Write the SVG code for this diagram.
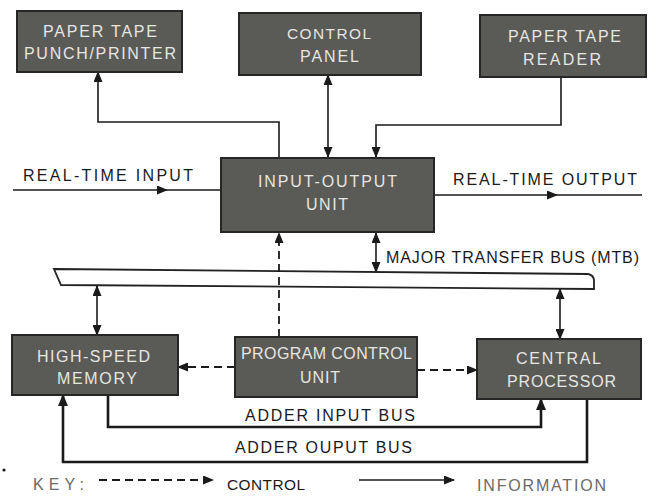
<svg xmlns="http://www.w3.org/2000/svg" width="654" height="499" viewBox="0 0 654 499">
<style>
.box{fill:#5a5a57;stroke:#262626;stroke-width:2}
.bt{font-family:"Liberation Sans",Arial,sans-serif;font-size:16px;fill:#e6e6e2}
.lt{font-family:"Liberation Sans",Arial,sans-serif;font-size:16px;fill:#1a1a1a}
.kt{font-family:"Liberation Sans",Arial,sans-serif;font-size:16px;fill:#6a6a6a}
.sm{font-size:15.4px}
.ln{fill:none;stroke:#1a1a1a;stroke-width:1.6}
.dl{fill:none;stroke:#1a1a1a;stroke-width:1.8;stroke-dasharray:8 5}
.th{fill:none;stroke:#1a1a1a;stroke-width:2.6}
</style>
<defs>
<marker id="ah" markerUnits="userSpaceOnUse" markerWidth="11" markerHeight="9" refX="10" refY="4.5" orient="auto-start-reverse">
<path d="M0,0 L11,4.5 L0,9 Z" fill="#1a1a1a"/>
</marker>
<marker id="ahb" markerUnits="userSpaceOnUse" markerWidth="12" markerHeight="10" refX="11" refY="5" orient="auto">
<path d="M0,0 L12,5 L0,10 Z" fill="#1a1a1a"/>
</marker>
</defs>
<rect width="654" height="499" fill="#ffffff"/>

<g id="bus">
<path d="M54,269 L588,274 Q594,275 594,281 L594,289 L61,285 Z" fill="#ffffff" stroke="#222" stroke-width="1.8"/>
</g>

<g id="connectors">
<path class="ln" d="M279,157 V122 H98 V72" marker-end="url(#ah)"/>
<path class="ln" d="M328,75 V157" marker-start="url(#ah)" marker-end="url(#ah)"/>
<path class="ln" d="M561,77 V125 H376 V157" marker-end="url(#ah)"/>
<path class="ln" d="M13,190 L167,190 L221,190" marker-mid="url(#ah)"/>
<path class="ln" d="M434,195 L557,195 L642,195" marker-mid="url(#ah)"/>
<path class="ln" d="M376,233 V272" marker-start="url(#ah)" marker-end="url(#ah)"/>
<path class="dl" d="M279,337 V233" marker-end="url(#ah)"/>
<path class="ln" d="M97,286 V335" marker-start="url(#ah)" marker-end="url(#ah)"/>
<path class="ln" d="M560,289 V339" marker-start="url(#ah)" marker-end="url(#ah)"/>
<path class="dl" d="M235,367 H178" marker-end="url(#ah)"/>
<path class="dl" d="M417,370 H477" marker-end="url(#ah)"/>
<path class="th" d="M108,395 V427 H541 V399" marker-end="url(#ahb)"/>
<path class="th" d="M587,399 V462 H63 V395" marker-end="url(#ahb)"/>
</g>

<g id="punch">
<rect class="box" x="17" y="11" width="165" height="61"/>
<text class="bt" x="43" y="37" textLength="114" lengthAdjust="spacing">PAPER TAPE</text>
<text class="bt" x="24" y="59" textLength="152" lengthAdjust="spacing">PUNCH/PRINTER</text>
</g>
<g id="control-panel">
<rect class="box" x="239" y="13" width="182" height="62"/>
<text class="bt sm" x="287" y="39" textLength="84" lengthAdjust="spacing">CONTROL</text>
<text class="bt" x="300" y="62" textLength="59" lengthAdjust="spacing">PANEL</text>
</g>
<g id="reader">
<rect class="box" x="480" y="15" width="166" height="62"/>
<text class="bt" x="508" y="42" textLength="113" lengthAdjust="spacing">PAPER TAPE</text>
<text class="bt" x="523" y="65" textLength="78" lengthAdjust="spacing">READER</text>
</g>
<g id="io-unit">
<rect class="box" x="221" y="158" width="213" height="74"/>
<text class="bt" x="258" y="187" textLength="139" lengthAdjust="spacing">INPUT-OUTPUT</text>
<text class="bt" x="306" y="210" textLength="42" lengthAdjust="spacing">UNIT</text>
</g>
<g id="memory">
<rect class="box" x="12" y="335" width="166" height="60"/>
<text class="bt" x="37" y="362" textLength="113" lengthAdjust="spacing">HIGH-SPEED</text>
<text class="bt" x="57" y="384" textLength="80" lengthAdjust="spacing">MEMORY</text>
</g>
<g id="program-control">
<rect class="box" x="235" y="337" width="182" height="60"/>
<text class="bt" x="241" y="359" textLength="171" lengthAdjust="spacing">PROGRAM CONTROL</text>
<text class="bt" x="300" y="383" textLength="40" lengthAdjust="spacing">UNIT</text>
</g>
<g id="central-processor">
<rect class="box" x="477" y="339" width="164" height="60"/>
<text class="bt" x="516" y="364" textLength="85" lengthAdjust="spacing">CENTRAL</text>
<text class="bt" x="507" y="387" textLength="109" lengthAdjust="spacing">PROCESSOR</text>
</g>

<g id="labels">
<text class="lt" x="23" y="181" textLength="170" lengthAdjust="spacing">REAL-TIME INPUT</text>
<text class="lt" x="453" y="185" textLength="184" lengthAdjust="spacing">REAL-TIME OUTPUT</text>
<text class="lt" x="386" y="263" textLength="253" lengthAdjust="spacing">MAJOR TRANSFER BUS (MTB)</text>
<text class="lt" x="245" y="421" textLength="170" lengthAdjust="spacing">ADDER INPUT BUS</text>
<text class="lt" x="235" y="453" textLength="177" lengthAdjust="spacing">ADDER OUPUT BUS</text>
</g>

<g id="key">
<circle cx="4" cy="470" r="1.6" fill="#1a1a1a"/>
<text class="kt" x="33" y="490" textLength="51" lengthAdjust="spacing">KEY:</text>
<path class="dl" d="M99,480 H213" marker-end="url(#ah)"/>
<text class="lt sm" x="227" y="490" textLength="78" lengthAdjust="spacing">CONTROL</text>
<path class="ln" d="M359,480 H454" marker-end="url(#ah)"/>
<text class="kt" x="477" y="491" textLength="129" lengthAdjust="spacing">INFORMATION</text>
</g>
</svg>
